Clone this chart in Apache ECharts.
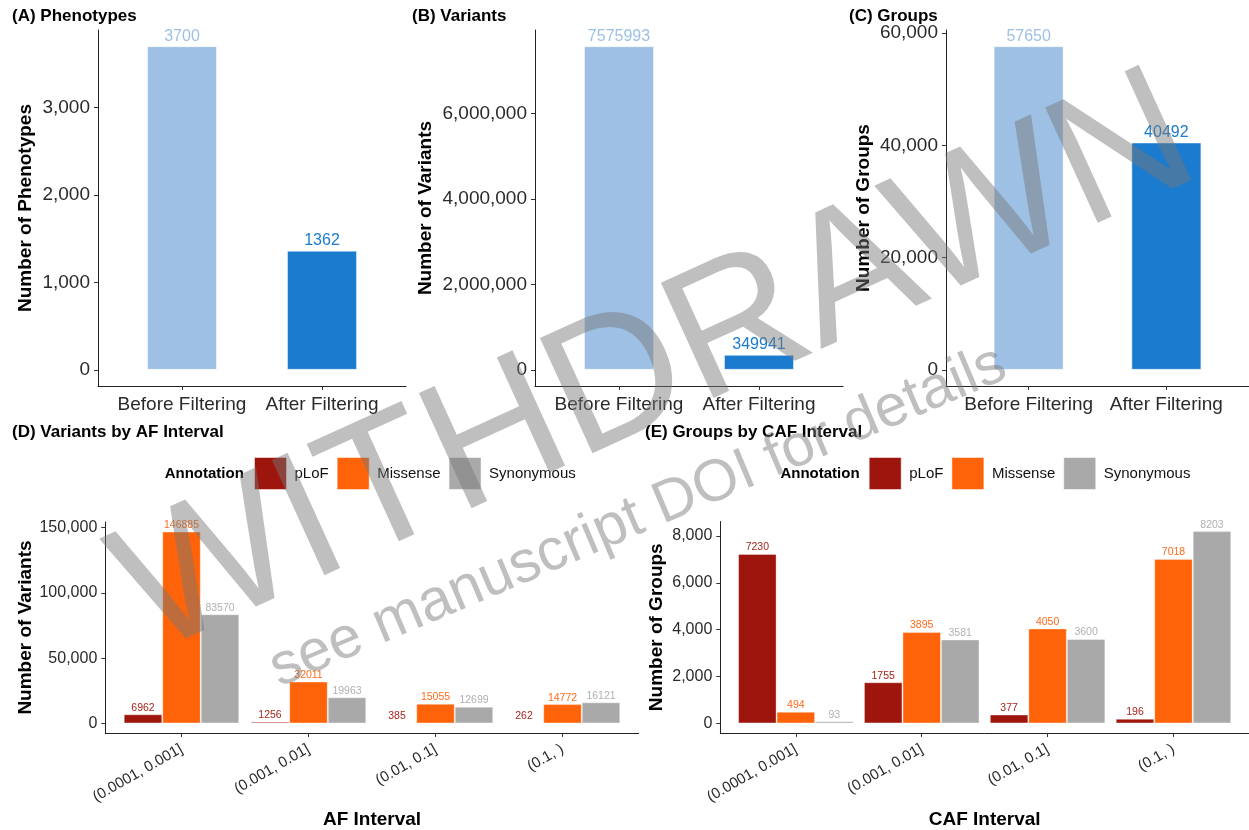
<!DOCTYPE html>
<html><head><meta charset="utf-8">
<script src="https://cdn.jsdelivr.net/npm/echarts@6/dist/echarts.min.js"></script>
<style>html,body{margin:0;padding:0;background:#fff}#c{width:1249px;height:830px}</style>
</head><body><div id="c"></div>
<script>
// ---------- data ----------
const filterCats = ['Before Filtering', 'After Filtering'];
const phenotypes = [3700, 1362];
const variants = [7575993, 349941];
const groups = [57650, 40492];
const phenoTicks = [0, 1000, 2000, 3000];
const variantTicks = [0, 2000000, 4000000, 6000000];
const groupTicks = [0, 20000, 40000, 60000];

const intervals = ['(0.0001, 0.001]', '(0.001, 0.01]', '(0.01, 0.1]', '(0.1, )'];
const annotations = ['pLoF', 'Missense', 'Synonymous'];
const afPLoF = [6962, 1256, 385, 262];
const afMissense = [146885, 32011, 15055, 14772];
const afSynonymous = [83570, 19963, 12699, 16121];
const cafPLoF = [7230, 1755, 377, 196];
const cafMissense = [494, 3895, 4050, 7018];
const cafSynonymous = [93, 3581, 3600, 8203];
const afTicks = [0, 50000, 100000, 150000];
const cafTicks = [0, 2000, 4000, 6000, 8000];

// ---------- style ----------
const FONT = "'Liberation Sans', Arial, Helvetica, sans-serif";
const topColors = ['#9DC0E4', '#1B7BCF'];
const annColors = ['#9E150D', '#FF6309', '#A9A9A9'];
const annLabelColors = ['#A8231C', '#FF6A1A', '#B0B0B0'];
const TICKCOL = '#2a2a2a';
const fmt = v => Math.round(v).toLocaleString('en-US');

const grids = [
  {left: 98, top: 30, width: 308, height: 356},
  {left: 535, top: 30, width: 308, height: 356},
  {left: 946, top: 30, width: 308, height: 356},
  {left: 105.3, top: 522, width: 533.4, height: 211},
  {left: 720.3, top: 521.5, width: 533.4, height: 211.5}
];

function yAxis(gi, maxVal, ticks, name, gap, fs) {
  return {
    type: 'value', gridIndex: gi, min: -0.05 * maxVal, max: 1.05 * maxVal,
    axisLine: {show: true, onZero: false, lineStyle: {color: '#222', width: 1}},
    axisTick: {show: true, length: 4, customValues: ticks, lineStyle: {color: '#333'}},
    axisLabel: {show: true, customValues: ticks, formatter: fmt, fontSize: fs, color: TICKCOL, margin: 8, fontFamily: FONT},
    splitLine: {show: false},
    name: name, nameLocation: 'middle', nameGap: gap, nameRotate: 90,
    nameTextStyle: {fontWeight: 'bold', fontSize: 19, color: '#000', fontFamily: FONT}
  };
}
function xAxis(gi, cats, opts) {
  const pos = cats.map((c, i) => i + 1);
  return Object.assign({
    type: 'value', gridIndex: gi, min: 0.4, max: cats.length + 0.6,
    axisLine: {show: true, onZero: false, lineStyle: {color: '#222', width: 1}},
    axisTick: {show: true, length: 4, customValues: pos, lineStyle: {color: '#333'}},
    axisLabel: Object.assign({show: true, customValues: pos, formatter: v => cats[Math.round(v) - 1],
      color: TICKCOL, fontFamily: FONT}, opts.label),
    splitLine: {show: false}
  }, opts.axis || {});
}

const maxOf = arrs => Math.max.apply(null, [].concat.apply([], arrs));

const xAxes = [
  xAxis(0, filterCats, {label: {fontSize: 19, margin: 9}}),
  xAxis(1, filterCats, {label: {fontSize: 19, margin: 9}}),
  xAxis(2, filterCats, {label: {fontSize: 19, margin: 9}}),
  xAxis(3, intervals, {label: {fontSize: 15, margin: 15, rotate: 30},
    axis: {name: 'AF Interval', nameLocation: 'middle', nameGap: 77,
      nameTextStyle: {fontWeight: 'bold', fontSize: 19, color: '#000', fontFamily: FONT}}}),
  xAxis(4, intervals, {label: {fontSize: 15, margin: 15, rotate: 30},
    axis: {name: 'CAF Interval', nameLocation: 'middle', nameGap: 77,
      nameTextStyle: {fontWeight: 'bold', fontSize: 19, color: '#000', fontFamily: FONT}}})
];
const yAxes = [
  yAxis(0, maxOf([phenotypes]), phenoTicks, 'Number of Phenotypes', 63, 19),
  yAxis(1, maxOf([variants]), variantTicks, 'Number of Variants', 100, 19),
  yAxis(2, maxOf([groups]), groupTicks, 'Number of Groups', 73, 19),
  yAxis(3, maxOf([afPLoF, afMissense, afSynonymous]), afTicks, 'Number of Variants', 70, 16),
  yAxis(4, maxOf([cafPLoF, cafMissense, cafSynonymous]), cafTicks, 'Number of Groups', 54, 16)
];

function topSeries(gi, vals) {
  return {
    type: 'bar', xAxisIndex: gi, yAxisIndex: gi, barWidth: 70,
    itemStyle: {borderColor: 'rgba(255,255,255,0.45)', borderWidth: 1},
    label: {show: true, position: 'top', distance: 2, fontSize: 16, fontFamily: FONT,
      formatter: p => String(p.value[1])},
    data: vals.map((v, i) => ({value: [i + 1, v], itemStyle: {color: topColors[i]}, label: {color: topColors[i]}}))
  };
}
function annSeries(gi, sets) {
  return sets.map((vals, k) => ({
    type: 'bar', name: annotations[k], xAxisIndex: gi, yAxisIndex: gi, barWidth: 38.5, barGap: '0%',
    itemStyle: {color: annColors[k], borderColor: 'rgba(255,255,255,0.35)', borderWidth: 1},
    label: {show: true, position: 'top', distance: 1, fontSize: 10.5, fontFamily: FONT, color: annLabelColors[k],
      formatter: p => String(p.value[1])},
    data: vals.map((v, i) => [i + 1, v])
  }));
}

const series = [
  topSeries(0, phenotypes), topSeries(1, variants), topSeries(2, groups)
].concat(annSeries(3, [afPLoF, afMissense, afSynonymous]))
 .concat(annSeries(4, [cafPLoF, cafMissense, cafSynonymous]));

function legendAt(left) {
  return {
    data: annotations, left: left, top: 457, orient: 'horizontal', padding: 0,
    itemWidth: 32, itemHeight: 32, itemGap: 8, icon: 'rect', selectedMode: false,
    itemStyle: {borderColor: 'rgba(255,255,255,0.5)', borderWidth: 1},
    textStyle: {fontSize: 15, color: '#111', fontFamily: FONT, padding: [0, 0, 0, 3]}
  };
}

function txt(x, y, text, size, weight) {
  return {type: 'text', x: x, y: y, z: 50,
    style: {text: text, fontSize: size, fontWeight: weight || 'normal', fontFamily: FONT, fill: '#000',
      align: 'left', verticalAlign: 'middle'}};
}

const rad = d => d * Math.PI / 180;
const graphics = [
  txt(12, 16, '(A) Phenotypes', 17, 'bold'),
  txt(412, 16, '(B) Variants', 17, 'bold'),
  txt(849, 16, '(C) Groups', 17, 'bold'),
  txt(12, 432, '(D) Variants by AF Interval', 17, 'bold'),
  txt(645, 432, '(E) Groups by CAF Interval', 17, 'bold'),
  txt(164.7, 474, 'Annotation', 15, 'bold'),
  txt(780.4, 474, 'Annotation', 15, 'bold'),
  {type: 'text', x: 657, y: 368, rotation: rad(24.5), z: 100,
    style: {text: 'WITHDRAWN', fontSize: 184, fontFamily: FONT, fill: 'rgba(118,118,118,0.47)',
      align: 'center', verticalAlign: 'middle'}},
  {type: 'text', x: 638, y: 517, rotation: rad(23), z: 100,
    style: {text: 'see manuscript DOI for details', fontSize: 59, fontFamily: FONT, fill: 'rgba(118,118,118,0.47)',
      align: 'center', verticalAlign: 'middle'}}
];

const chart = echarts.init(document.getElementById('c'), null, {renderer: 'canvas'});
chart.setOption({
  animation: false,
  backgroundColor: '#fff',
  textStyle: {fontFamily: FONT},
  grid: grids,
  xAxis: xAxes,
  yAxis: yAxes,
  legend: [legendAt(254), legendAt(868.7)],
  series: series,
  graphic: {elements: graphics}
});
</script></body></html>
